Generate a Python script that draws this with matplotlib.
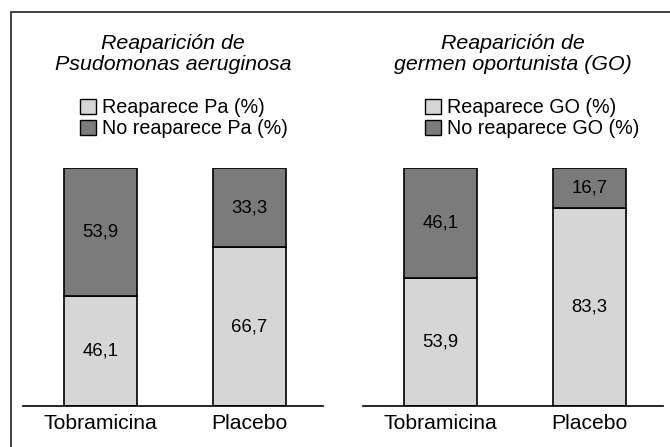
import matplotlib
matplotlib.use("Agg")
import matplotlib.pyplot as plt
import matplotlib.patches as mpatches

plt.rcParams['font.family'] = ['Liberation Sans', 'DejaVu Sans']

groups = ["Tobramicina", "Placebo"]

pa_reaparece = [46.1, 66.7]
pa_no_reaparece = [53.9, 33.3]
go_reaparece = [53.9, 83.3]
go_no_reaparece = [46.1, 16.7]

titles = ["Reaparición de\nPsudomonas aeruginosa",
          "Reaparición de\ngermen oportunista (GO)"]
legend_labels = [["Reaparece Pa (%)", "No reaparece Pa (%)"],
                 ["Reaparece GO (%)", "No reaparece GO (%)"]]

light = "#d6d6d6"
dark = "#7b7b7b"

W, H = 670, 447
fig = plt.figure(figsize=(W / 100, H / 100), dpi=100)

# outer frame (runs off the right and bottom edges)
frame = mpatches.Rectangle((11 / W, -0.05), 1.1, (H - 12) / H + 0.05,
                           transform=fig.transFigure, fill=False,
                           edgecolor="#333333", linewidth=1.3)
fig.patches.append(frame)

panels = [(pa_reaparece, pa_no_reaparece, 23, 0.537),
          (go_reaparece, go_no_reaparece, 363, 0.563)]

ax_h = 238
for i, (low, high, left_px, leg_x) in enumerate(panels):
    ax = fig.add_axes([left_px / W, (H - 406) / H, 300 / W, ax_h / H])
    x = range(len(groups))
    ax.bar(x, low, width=0.49, color=light, edgecolor="black", linewidth=1.2)
    ax.bar(x, high, width=0.49, bottom=low, color=dark, edgecolor="black", linewidth=1.2)
    for xi, lo, hi in zip(x, low, high):
        ax.text(xi, lo / 2, f"{lo}".replace(".", ","), ha="center", va="center", fontsize=13.3)
        ax.text(xi, lo + hi / 2, f"{hi}".replace(".", ","), ha="center", va="center", fontsize=13.3)
    ax.set_xlim(-0.52, 1.493)
    ax.set_ylim(0, 100)
    ax.set_xticks(list(x))
    ax.set_xticklabels(groups, fontsize=15.2)
    ax.tick_params(axis="x", length=0, pad=6)
    ax.set_yticks([])
    for s in ["left", "right", "top"]:
        ax.spines[s].set_visible(False)
    ax.spines["bottom"].set_linewidth(1.2)
    ax.text(0.5, (406 - 54) / ax_h, titles[i], transform=ax.transAxes, ha="center", va="center",
            fontsize=15.4, style="italic", linespacing=1.12)
    handles = [mpatches.Patch(facecolor=light, edgecolor="black", linewidth=1, label=legend_labels[i][0]),
               mpatches.Patch(facecolor=dark, edgecolor="black", linewidth=1, label=legend_labels[i][1])]
    ax.legend(handles=handles, loc="center", bbox_to_anchor=(leg_x, (406 - 118) / ax_h), frameon=False,
              fontsize=14.2, handlelength=0.8, handleheight=0.8, handletextpad=0.3,
              labelspacing=0.1, borderaxespad=0)

fig.savefig("out.png", dpi=100)
